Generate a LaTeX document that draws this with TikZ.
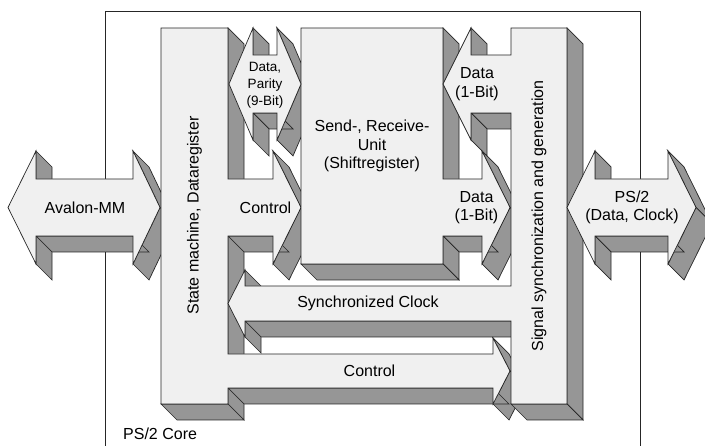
\documentclass[tikz,border=0pt]{standalone}
\usepackage{fontspec}
\setmainfont{Liberation Sans}
\definecolor{facegray}{RGB}{240,240,240}
\definecolor{sidegray}{RGB}{150,150,150}
% depth of the 3D blocks
\newcommand{\dd}{16}
\newcommand{\sideface}[2]{\draw[side] (#1) -- (#2) -- ([shift={(\dd,\dd)}]#2) -- ([shift={(\dd,\dd)}]#1) -- cycle;}

\begin{document}
\begin{tikzpicture}[
  x=1pt, y=-1pt,
  face/.style={draw=black!85, fill=facegray, line width=0.7pt, line join=miter},
  side/.style={draw=black!85, fill=sidegray, line width=0.7pt},
  frame/.style={draw=black!85, line width=0.8pt},
  lbl/.style={align=center, font=\fontsize{16}{18.5}\selectfont},
  smalllbl/.style={align=center, font=\fontsize{13.5}{17}\selectfont}
]
\useasboundingbox (0,0) rectangle (705,446);
\draw[frame] (105,450) -- (105,11) -- (640,11) -- (640,450);

% side faces
\foreach \xa/\ya/\xb/\yb in {
  228/28/228/179, 273/151/301/207.5, 301/207.5/273/264, 273/236/228/236,
  228/236/228/354, 493/338/510/371, 510/371/493/404, 493/388/228/388,
  228/388/228/404, 228/404/161/404,
  443/28/443/179, 482/151/510/207.5, 510/207.5/482/264, 482/236/443/236,
  443/236/443/264, 443/264/301/264,
  567/28/567/404, 567/404/511/404, 511/321/245/321, 245/321/245/337,
  245/270/245/286, 511/113/471/113, 471/113/471/140, 471/28/471/55,
  253/28/253/55, 277/28/301/84, 301/84/277/140, 277/113/253/113, 253/113/253/140,
  36/151/36/179, 133/151/160/207.5, 160/207.5/133/264, 133/236/36/236, 36/236/36/264,
  595/151/595/179, 668/151/696/207.5, 696/207.5/668/264, 668/236/595/236, 595/236/595/264}
  \sideface{\xa,\ya}{\xb,\yb};

% state machine with both control arrows
\draw[face] (161,28) -- (228,28) -- (228,179) -- (273,179) -- (273,151) -- (301,207.5)
  -- (273,264) -- (273,236) -- (228,236) -- (228,354) -- (493,354) -- (493,338)
  -- (510,371) -- (493,404) -- (493,388) -- (228,388) -- (228,404) -- (161,404) -- cycle;
% send/receive unit with data out
\draw[face] (301,28) -- (443,28) -- (443,179) -- (482,179) -- (482,151) -- (510,207.5)
  -- (482,264) -- (482,236) -- (443,236) -- (443,264) -- (301,264) -- cycle;
% signal block with data in and clock
\draw[face] (511,28) -- (567,28) -- (567,404) -- (511,404) -- (511,321) -- (245,321)
  -- (245,337) -- (228,303.5) -- (245,270) -- (245,286) -- (511,286) -- (511,113)
  -- (471,113) -- (471,140) -- (443,84) -- (471,28) -- (471,55) -- (511,55) -- cycle;
% double arrows
\draw[face] (229,84) -- (253,28) -- (253,55) -- (277,55) -- (277,28) -- (301,84)
  -- (277,140) -- (277,113) -- (253,113) -- (253,140) -- cycle;
\draw[face] (8,207.5) -- (36,151) -- (36,179) -- (133,179) -- (133,151) -- (160,207.5)
  -- (133,264) -- (133,236) -- (36,236) -- (36,264) -- cycle;
\draw[face] (567,207.5) -- (595,151) -- (595,179) -- (668,179) -- (668,151) -- (696,207.5)
  -- (668,264) -- (668,236) -- (595,236) -- (595,264) -- cycle;

\node[lbl] (avalon) at (85,207.5) {Avalon-MM};
\node[lbl, rotate=90] (statem) at (194.5,215.5) {State machine, Dataregister};
\node[smalllbl] (parity) at (265,85) {Data,\\Parity\\(9-Bit)};
\node[lbl] (ctrlup) at (265.5,207.5) {Control};
\node[lbl] (sendunit) at (372,146) {Send-, Receive-\\Unit\\(Shiftregister)};
\node[lbl] (datain) at (477,84) {Data\\(1-Bit)};
\node[lbl] (dataout) at (476.5,207.5) {Data\\(1-Bit)};
\node[lbl] (syncclk) at (368,303.5) {Synchronized Clock};
\node[lbl] (ctrldown) at (369.5,371) {Control};
\node[lbl, rotate=90] (siggen) at (539,216) {Signal synchronization and generation};
\node[lbl] (ps2) at (632,207.5) {PS/2\\(Data, Clock)};
\node[lbl, anchor=west, inner sep=0pt] (core) at (123,434) {PS/2 Core};
\end{tikzpicture}
\end{document}
